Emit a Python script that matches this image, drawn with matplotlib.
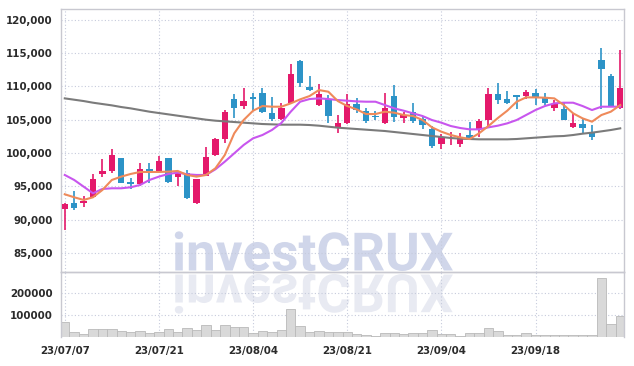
import matplotlib
matplotlib.use("Agg")
import matplotlib.pyplot as plt
import numpy as np
from matplotlib import font_manager as fm
from matplotlib.textpath import TextPath
from matplotlib.patches import PathPatch
from matplotlib.font_manager import FontProperties
from matplotlib.transforms import Affine2D, IdentityTransform

dates = ["23/07/07", "23/07/10", "23/07/11", "23/07/12", "23/07/13", "23/07/14", "23/07/17", "23/07/18",
         "23/07/19", "23/07/20", "23/07/21", "23/07/24", "23/07/25", "23/07/26", "23/07/27", "23/07/28",
         "23/07/31", "23/08/01", "23/08/02", "23/08/03", "23/08/04", "23/08/07", "23/08/08", "23/08/09",
         "23/08/10", "23/08/11", "23/08/14", "23/08/16", "23/08/17", "23/08/18", "23/08/21", "23/08/22",
         "23/08/23", "23/08/24", "23/08/25", "23/08/28", "23/08/29", "23/08/30", "23/08/31", "23/09/01",
         "23/09/04", "23/09/05", "23/09/06", "23/09/07", "23/09/08", "23/09/11", "23/09/12", "23/09/13",
         "23/09/14", "23/09/15", "23/09/18", "23/09/19", "23/09/20", "23/09/21", "23/09/22", "23/09/25",
         "23/09/26", "23/09/27", "23/10/04", "23/10/05"]

opens = [91600, 92450, 92450, 93350, 96900, 97350, 99200, 95700, 95350, 97600,
         97150, 99200, 96350, 96950, 92450, 96600, 99700, 102050, 108050, 107050,
         108350, 108950, 106050, 105100, 107450, 113800, 109950, 107200, 108050, 103850,
         104450, 107300, 106300, 105600, 104450, 108550, 105300, 106200, 105100, 103550,
         101350, 101750, 101350, 102700, 103550, 104950, 108850, 108050, 108700, 108600,
         109050, 108350, 106800, 106600, 103950, 104350, 102950, 113950, 111550, 106800]
highs = [92500, 94300, 93550, 96800, 99050, 100550, 99250, 96200, 98450, 98450,
         99550, 99250, 97350, 97450, 96100, 100850, 102200, 106400, 108850, 109700,
         109050, 109800, 108350, 107550, 113350, 113950, 111550, 110300, 108700, 105700,
         108850, 108200, 106700, 106350, 108950, 110200, 106200, 107450, 105550, 104050,
         102850, 103200, 103050, 104700, 105050, 109700, 110450, 109350, 108750, 109450,
         109550, 108950, 107950, 107450, 105950, 105200, 104200, 115700, 111800, 115450]
lows = [88500, 91450, 91850, 93300, 96400, 97050, 95500, 94600, 95050, 95450,
        97100, 95450, 95050, 93050, 92400, 96500, 99500, 101550, 105200, 106600,
        106450, 105950, 104800, 105000, 107300, 109850, 109300, 107100, 104450, 102950,
        104350, 105950, 104550, 104950, 104350, 104700, 104450, 104550, 103550, 100700,
        100550, 101200, 100850, 101950, 102450, 103800, 107350, 107350, 106550, 108050,
        107200, 107200, 106350, 104950, 103700, 102950, 101950, 106550, 106950, 106550]
closes = [92400, 91800, 92800, 96100, 97350, 99700, 95550, 95400, 97550, 97250,
          98800, 95700, 97050, 93200, 96050, 99450, 102100, 106200, 106800, 107750,
          108100, 106100, 105100, 106700, 111850, 110550, 109450, 108850, 105550, 104450,
          107350, 106450, 104850, 105350, 106700, 105350, 105700, 104850, 104200, 101050,
          102350, 101850, 102450, 102150, 104850, 108850, 107950, 107550, 108450, 109150,
          108350, 107550, 107350, 104950, 104450, 103800, 102350, 112600, 106950, 109700]
volumes = [71000, 26000, 15000, 38000, 38000, 38000, 30000, 26000, 30000, 18000,
           24000, 38000, 23000, 42000, 35000, 56000, 33000, 56000, 47000, 47000,
           21000, 29000, 26000, 33000, 126000, 53000, 26000, 29000, 24000, 24000,
           24000, 15000, 11000, 8000, 20000, 20000, 14000, 18000, 21000, 33000,
           14000, 17000, 8000, 20000, 20000, 42000, 29000, 11000, 11000, 20000,
           9000, 9000, 9000, 11000, 9000, 9000, 9000, 266000, 62000, 97000]

# moving average lines
ma_short = [93800, 93350, 92950, 93350, 94450, 95950, 96450, 96850, 97150, 97150,
            97150, 97200, 97300, 96700, 96450, 96700, 97700, 99700, 102950, 104950,
            106350, 107050, 106950, 106950, 107450, 108050, 108550, 109450, 109200, 107800,
            107050, 106550, 105850, 105850, 106200, 106050, 105700, 105550, 104950, 103850,
            103200, 102700, 102350, 102100, 102950, 104050, 105250, 106350, 107700, 108350,
            108350, 108300, 108200, 107200, 105950, 105200, 104700, 105700, 106200, 107200]
ma_mid = [96700, 95950, 94950, 93950, 94600, 94700, 94700, 94850, 95200, 95950,
          96450, 96850, 97050, 96800, 96700, 96700, 97550, 98700, 99950, 101200,
          102200, 102700, 103450, 104500, 106200, 107700, 108100, 108200, 108100, 107950,
          107850, 107750, 107700, 107700, 107200, 106700, 106350, 105950, 105550, 104950,
          104550, 104050, 103750, 103550, 103550, 103850, 104100, 104450, 104950, 105700,
          106450, 107050, 107450, 107550, 107550, 107050, 106450, 106950, 106950, 106950]
ma_long = [108200, 108000, 107800, 107550, 107350, 107150, 106900, 106700, 106450, 106200,
           106000, 105800, 105600, 105400, 105200, 105000, 104850, 104750, 104650, 104550,
           104450, 104350, 104300, 104250, 104250, 104250, 104200, 104100, 103950, 103800,
           103700, 103600, 103500, 103400, 103300, 103150, 103000, 102850, 102700, 102550,
           102400, 102250, 102150, 102100, 102050, 102050, 102050, 102050, 102100, 102200,
           102300, 102400, 102500, 102550, 102700, 102900, 103050, 103250, 103450, 103700]

price_ticks = [85000, 90000, 95000, 100000, 105000, 110000, 115000, 120000]
vol_ticks = [100000, 200000]
label_idx = [0, 10, 20, 30, 40, 50]

UP = '#e4196b'
DOWN = '#2c93c7'
GRID = '#c6cbdc'
FRAME = '#c8c8d0'
TXT = '#2b2b2b'

# pick a narrow font for the axis labels if one is installed
narrow = [f for f in fm.fontManager.ttflist
          if 'Narrow' in f.name or 'Condensed' in f.name
          or str(f.stretch) in ('condensed', 'semi-condensed', 'extra-condensed')]
narrow.sort(key=lambda f: (0 if str(f.weight) in ('700', 'bold') else 1,
                           0 if 'Italic' not in f.fname and 'Oblique' not in f.fname else 1))
if narrow:
    lab_fp = FontProperties(fname=narrow[0].fname, size=8.2)
else:
    lab_fp = FontProperties(family='DejaVu Sans', weight='bold', size=7.5)

fig = plt.figure(figsize=(6.34, 3.66), dpi=100, facecolor='white')
ax = fig.add_axes([61/634, 1-272/366, 563/634, 263/366])
axv = fig.add_axes([61/634, 1-337.3/366, 563/634, 65.3/366], sharex=ax)
for a in (ax, axv):
    a.set_facecolor('none')
    for s in a.spines.values():
        s.set_color(FRAME)
        s.set_linewidth(1)
    a.tick_params(length=0, colors=TXT)
    a.grid(True, color=GRID, linestyle=(0, (1, 2)), linewidth=0.8)
    a.set_axisbelow(True)
axv.spines['bottom'].set_visible(False)

x = np.arange(len(dates))

# volume
axv.bar(x, volumes, width=1.0, color='#d9d9d9', edgecolor='#b9b9b9', linewidth=0.6)
axv.set_ylim(0, 294000)
axv.set_yticks(vol_ticks)
axv.set_yticklabels([str(v) for v in vol_ticks])

# candles
o = np.array(opens); c = np.array(closes)
cols = [UP if cc >= oo else DOWN for oo, cc in zip(o, c)]
ax.vlines(x, lows, highs, colors=cols, linewidth=1.2, zorder=3)
body = np.maximum(np.abs(c - o), 120)
ax.bar(x, body, bottom=np.minimum(o, c), width=0.68, color=cols, zorder=4, linewidth=0)

ax.plot(x, ma_long, color='#7b7b7b', lw=1.5, zorder=5)
ax.plot(x, ma_mid, color='#c856ee', lw=1.5, zorder=5)
ax.plot(x, ma_short, color='#ef8a5a', lw=1.5, zorder=5)

ax.set_ylim(82130, 121620)
ax.set_yticks(price_ticks)
ax.set_yticklabels([f"{v:,}" for v in price_ticks])
ax.set_xlim(-0.4, len(dates) - 0.6)
ax.set_xticks(label_idx)
ax.tick_params(axis='x', labelbottom=False)
axv.set_xticks(label_idx)
axv.set_xticklabels([dates[i] for i in label_idx])
axv.tick_params(axis='x', pad=6)
ax.tick_params(axis='y', pad=6)
axv.tick_params(axis='y', pad=6)
for lab in ax.get_yticklabels() + axv.get_yticklabels() + axv.get_xticklabels():
    lab.set_fontproperties(lab_fp)

# watermark with reflection
fp = FontProperties(family='Roboto', weight='bold')
tp = TextPath((0, 0), "investCRUX", size=53, prop=fp)
mark = PathPatch(tp, transform=Affine2D().translate(172, 366 - 270.5) + IdentityTransform(),
                 facecolor='#d0d6ea', edgecolor='none', zorder=-1)
refl = PathPatch(tp, transform=Affine2D().scale(1, -1).translate(172, 366 - 274.5) + IdentityTransform(),
                 facecolor='#e8eaf2', edgecolor='none', zorder=-1)
fig.add_artist(mark)
fig.add_artist(refl)

fig.savefig('out.png', dpi=100, facecolor='white')
